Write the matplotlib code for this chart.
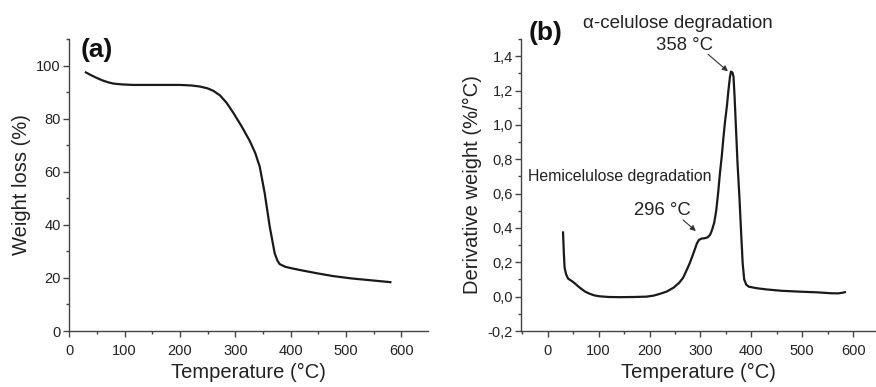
import matplotlib.pyplot as plt
from matplotlib.ticker import MultipleLocator, FuncFormatter

plt.rcParams['font.family'] = ['Liberation Sans', 'DejaVu Sans']

# (a) TGA curve
tga_temp = [30, 40, 50, 60, 70, 80, 95, 115, 150, 200, 220, 236, 250, 260, 272, 284,
            296, 311, 326, 336, 344, 353, 362, 371, 376, 380, 390, 400, 416, 446, 476,
            510, 545, 580]
tga_weight = [97.4, 96.3, 95.3, 94.4, 93.7, 93.2, 92.9, 92.7, 92.7, 92.7, 92.5, 92.1,
              91.4, 90.5, 88.8, 86.0, 82.3, 77.2, 71.6, 67.0, 61.9, 51.9, 39.4, 29.3,
              26.5, 25.2, 24.2, 23.7, 23.0, 21.8, 20.7, 19.8, 19.1, 18.4]

# (b) DTG curve
dtg_temp = [30, 31.5, 33, 36, 40, 50, 63, 73, 83, 92, 102, 120, 142, 170, 194, 208, 220,
            234, 247, 258, 266, 273, 279, 284, 289, 293, 297, 302, 308, 314, 319, 323,
            327, 331, 335, 338, 342, 345, 348, 352, 355, 358, 360, 363, 365, 367, 370,
            373, 376.6, 380, 383, 386, 390, 395, 411, 430, 460, 496, 530, 555, 570, 578,
            584]
dtg_value = [0.374, 0.26, 0.17, 0.13, 0.105, 0.085, 0.052, 0.03, 0.016, 0.007, 0.002,
             -0.002, -0.003, -0.002, 0.0, 0.006, 0.016, 0.03, 0.052, 0.08, 0.11, 0.155,
             0.195, 0.235, 0.275, 0.31, 0.33, 0.338, 0.34, 0.345, 0.36, 0.39, 0.43, 0.5,
             0.61, 0.71, 0.82, 0.92, 1.01, 1.11, 1.2, 1.28, 1.31, 1.305, 1.28, 1.17, 0.97,
             0.77, 0.58, 0.37, 0.194, 0.1, 0.07, 0.058, 0.049, 0.042, 0.034, 0.029, 0.025,
             0.02, 0.019, 0.022, 0.026]

line_color = '#1a1a1a'
axis_color = '#444444'
text_color = '#222222'
label_size = 14.5
tick_size = 10.5

fig = plt.figure(figsize=(8.76, 3.87), dpi=100)
ax1 = fig.add_axes([0.0791, 0.1447, 0.4095, 0.7545])
ax2 = fig.add_axes([0.5951, 0.1447, 0.4049, 0.7545])

for ax in (ax1, ax2):
    ax.spines['top'].set_visible(False)
    ax.spines['right'].set_visible(False)
    for s in ('left', 'bottom'):
        ax.spines[s].set_color(axis_color)
        ax.spines[s].set_linewidth(1.0)
    ax.tick_params(which='major', direction='out', length=4, width=1, colors=axis_color,
                   labelcolor=text_color, labelsize=tick_size, pad=2)
    ax.tick_params(which='minor', direction='out', length=2.5, width=1, colors=axis_color)
    ax.tick_params(axis='x', which='major', pad=5)
    ax.xaxis.set_major_locator(MultipleLocator(100))
    ax.xaxis.set_minor_locator(MultipleLocator(50))
    ax.set_xlabel('Temperature (°C)', fontsize=label_size, color=text_color, labelpad=4)

# panel (a)
ax1.plot(tga_temp, tga_weight, color=line_color, lw=1.6)
ax1.set_xlim(0, 648)
ax1.set_ylim(0, 110)
ax1.yaxis.set_major_locator(MultipleLocator(20))
ax1.yaxis.set_minor_locator(MultipleLocator(10))
ax1.set_ylabel('Weight loss (%)', fontsize=label_size, color=text_color, labelpad=4)
ax1.text(0.032, 1.005, '(a)', transform=ax1.transAxes, fontsize=19, fontweight='bold',
         ha='left', va='top', color='#111111', clip_on=False)

# panel (b)
ax2.plot(dtg_temp, dtg_value, color=line_color, lw=1.6)
ax2.set_xlim(-52, 645)
ax2.set_ylim(-0.2, 1.5)
ax2.yaxis.set_major_locator(MultipleLocator(0.2))
ax2.yaxis.set_minor_locator(MultipleLocator(0.1))
ax2.yaxis.set_major_formatter(FuncFormatter(lambda v, p: f'{v:.1f}'.replace('.', ',')))
ax2.set_ylabel('Derivative weight (%/°C)', fontsize=label_size, color=text_color, labelpad=4)
ax2.text(0.02, 1.06, '(b)', transform=ax2.transAxes, fontsize=19, fontweight='bold',
         ha='left', va='top', color='#111111', clip_on=False)

ax2.text(256, 1.59, 'α-celulose degradation', fontsize=13.5, ha='center', va='center',
         color=text_color, clip_on=False)
ax2.text(269, 1.465, '358 °C', fontsize=13.3, ha='center', va='center', color=text_color)
ax2.annotate('', xy=(354, 1.312), xytext=(315, 1.411),
             arrowprops=dict(arrowstyle='-|>', color='#333333', lw=0.8,
                             mutation_scale=8, shrinkA=0, shrinkB=0))
ax2.text(141, 0.70, 'Hemicelulose degradation', fontsize=11.4, ha='center', va='center',
         color=text_color)
ax2.text(226, 0.504, '296 °C', fontsize=13.3, ha='center', va='center', color=text_color)
ax2.annotate('', xy=(291, 0.382), xytext=(266, 0.446),
             arrowprops=dict(arrowstyle='-|>', color='#333333', lw=0.8,
                             mutation_scale=8, shrinkA=0, shrinkB=0))

fig.savefig('out.png', dpi=100)
